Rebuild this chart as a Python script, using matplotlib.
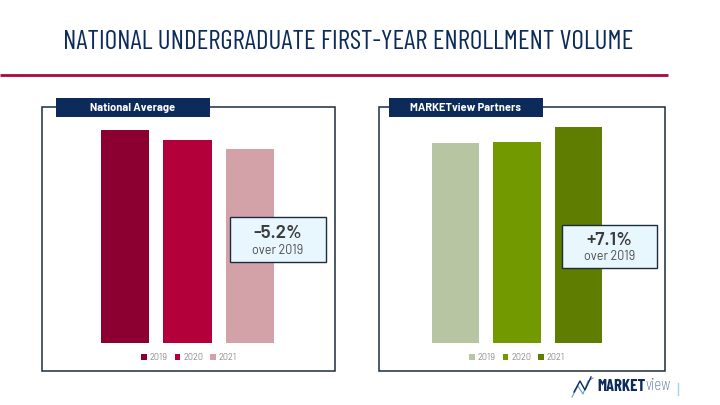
import matplotlib
matplotlib.use("Agg")
import matplotlib.pyplot as plt
from matplotlib.patches import Rectangle, Patch

# ---- data ----
years = ["2019", "2020", "2021"]
national = [100.0, 97.3, 94.8]        # indexed volume, 2019 = 100
marketview = [100.0, 100.4, 107.1]    # indexed volume, 2019 = 100
national_colors = ["#8c0031", "#b3003b", "#d3a1a8"]
market_colors = ["#b8c5a3", "#739900", "#5f7d00"]
panel_titles = ["National Average", "MARKETview Partners"]
title = "NATIONAL UNDERGRADUATE FIRST-YEAR ENROLLMENT VOLUME"

NAVY = "#0d2b5a"
BODY = ["Barlow", "DejaVu Sans"]
COND = ["Barlow Condensed", "DejaVu Sans"]
W, H = 720, 405
fig = plt.figure(figsize=(7.2, 4.05), dpi=100)
fig.patch.set_facecolor("white")

def px_axes(x0, y0, x1, y1, **kw):
    # y measured from top in pixels
    return fig.add_axes([x0 / W, 1 - y1 / H, (x1 - x0) / W, (y1 - y0) / H], **kw)

ov = px_axes(0, 0, W, H, zorder=5)
ov.set_xlim(0, W)
ov.set_ylim(H, 0)
ov.axis("off")
ov.patch.set_alpha(0)

# title + rule
ov.text(348, 42, title, ha="center", va="center", color=NAVY, fontsize=19.5,
        family=COND, fontweight="normal")
ov.plot([0, 668], [75, 75], color="#a6093d", lw=2, solid_capstyle="butt")

panels = [
    dict(vals=national, cols=national_colors, box=(42, 107, 335, 371),
         hdr=(56, 98, 210, 117), bars=(93.5, 281.5), top=130, base=41.7,
         ann=(230, 217, 326, 262), leg=(189, 358)),
    dict(vals=marketview, cols=market_colors, box=(379, 107, 665, 371),
         hdr=(389, 98, 543, 117), bars=(424.75, 609.25), top=127, base=11.25,
         ann=(562, 225, 657, 268), leg=(517, 358)),
]

for p, ptitle in zip(panels, panel_titles):
    bx0, by0, bx1, by1 = p["box"]
    ov.add_patch(Rectangle((bx0, by0), bx1 - bx0, by1 - by0, fill=False,
                           edgecolor="#1c2c3c", lw=1.1))
    hx0, hy0, hx1, hy1 = p["hdr"]
    ov.add_patch(Rectangle((hx0, hy0), hx1 - hx0, hy1 - hy0, facecolor=NAVY,
                           edgecolor="none"))
    ov.text((hx0 + hx1) / 2, (hy0 + hy1) / 2 + 0.5, ptitle, ha="center", va="center",
            color="white", fontsize=8, fontweight="bold", family=BODY)

    ax = px_axes(p["bars"][0], p["top"], p["bars"][1], 343, zorder=2)
    x = list(range(len(years)))
    ax.bar(x, p["vals"], width=0.77, color=p["cols"])
    ax.set_xlim(-0.5, len(years) - 0.5)
    ax.set_ylim(p["base"], max(p["vals"]))
    ax.axis("off")

    handles = [Patch(facecolor=c, edgecolor="none") for c in p["cols"]]
    leg = ax.legend(handles, years, loc="center", bbox_to_anchor=p["leg"],
                    bbox_transform=ov.transData, ncol=3, frameon=False,
                    handlelength=0.62, handleheight=0.62,
                    handletextpad=0.3, columnspacing=0.75, borderpad=0,
                    prop={"family": BODY, "size": 6.6})
    for t in leg.get_texts():
        t.set_color("#8c8c8c")

    change = (p["vals"][-1] / p["vals"][0] - 1) * 100
    ax0, ay0, ax1, ay1 = p["ann"]
    ov.add_patch(Rectangle((ax0, ay0), ax1 - ax0, ay1 - ay0, facecolor="#e8f7fd",
                           edgecolor="#1c2c3c", lw=1.0, zorder=6))
    cx = (ax0 + ax1) / 2
    ov.text(cx, ay0 + (ay1 - ay0) * 0.36, f"{change:+.1f}%",
            ha="center", va="center", fontsize=13.5, fontweight="semibold",
            color="#3b3b3b", family=BODY, zorder=7)
    ov.text(cx, ay0 + (ay1 - ay0) * 0.74, "over " + years[0], ha="center", va="center",
            fontsize=9, color="#4a4a4a", family=BODY, zorder=7)

# logo
ov.plot([572, 578, 583, 588, 593], [397, 386, 394, 381, 378], color="#5aa0d0", lw=0.8)
ov.plot([574, 580, 585, 591], [392, 381, 390, 377], color=NAVY, lw=1.0)
mk = ov.text(597, 386.5, "MARKET", ha="left", va="center", fontsize=12,
             fontweight="bold", color=NAVY, family=COND)
ov.annotate("view", xy=(1, 0.5), xycoords=mk, xytext=(0.3, 0), textcoords="offset points",
            ha="left", va="center", fontsize=12.5, color="#3a5a8a", family=COND,
            fontweight="light")
ov.plot([678, 678], [383, 395], color="#a8d0ea", lw=1.0)

fig.savefig("out.png", dpi=100, facecolor="white")
